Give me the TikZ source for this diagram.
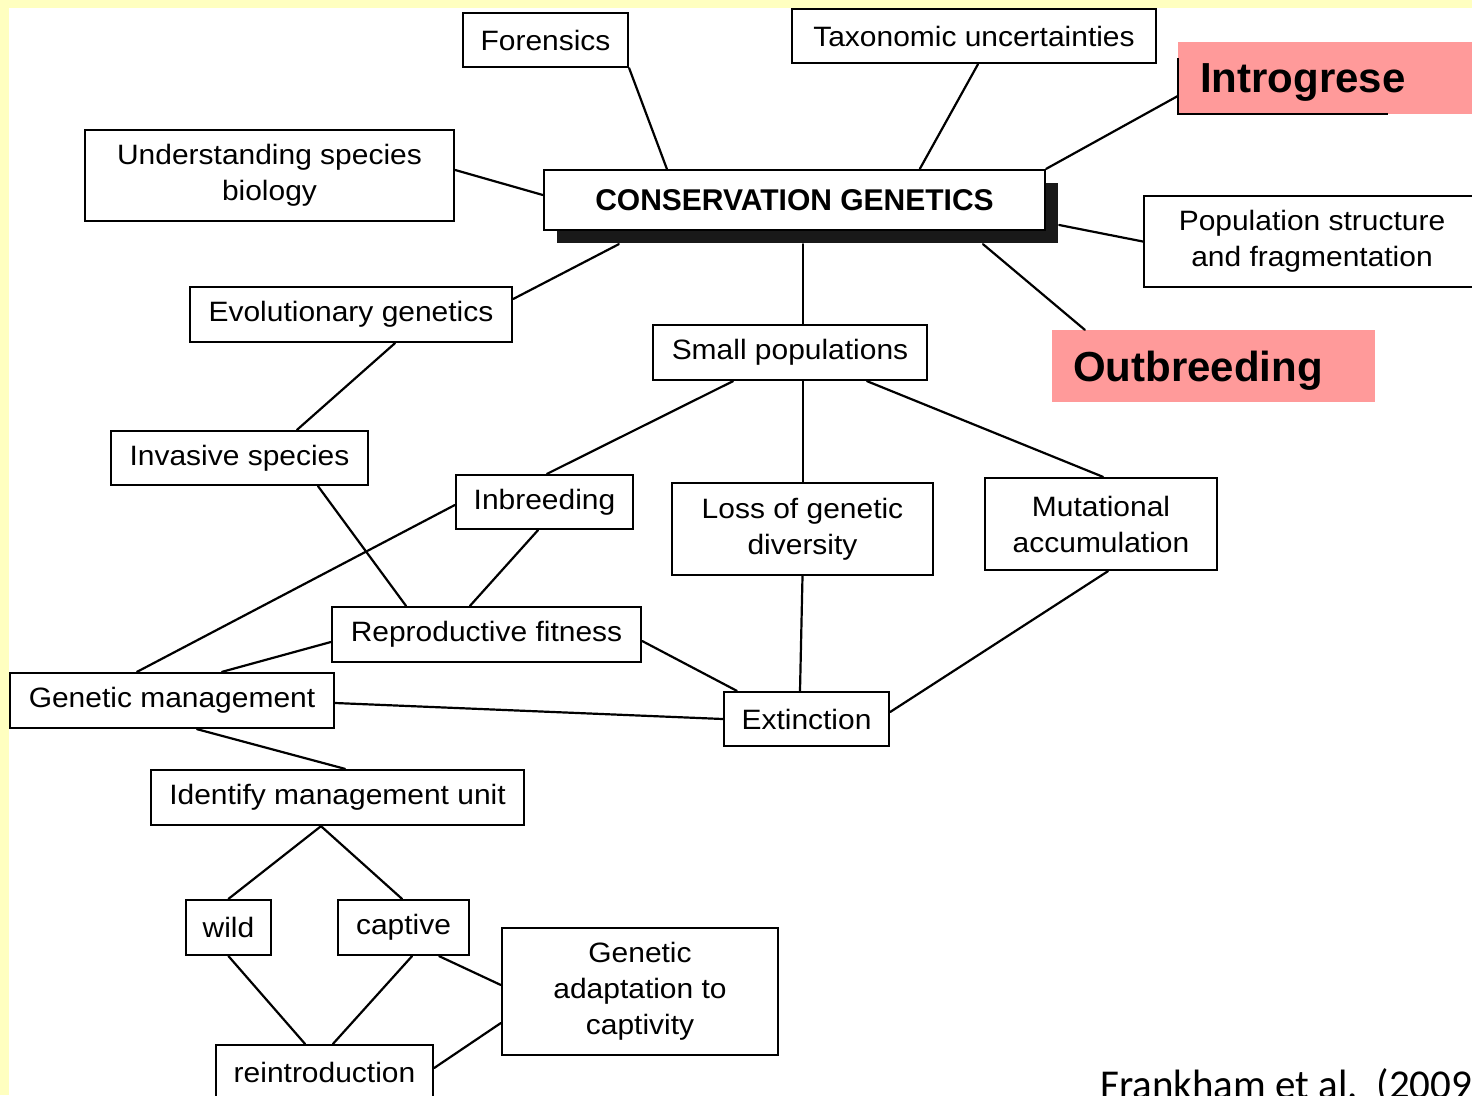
\documentclass[tikz,border=0pt]{standalone}
\usepackage{fontspec}
\setmainfont{Liberation Sans}[FakeStretch=1.07]
\newfontfamily\plainsans{Liberation Sans}
\newfontfamily\calib{Carlito}
\definecolor{slideyellow}{RGB}{255,255,192}
\definecolor{hlpink}{RGB}{255,154,154}
\begin{document}
\begin{tikzpicture}[x=1pt,y=-1pt,
  box/.style={draw=black,line width=2.3pt,fill=white,inner sep=0pt,align=center,
    font=\fontsize{28}{36}\selectfont},
  pinkbox/.style={fill=hlpink,inner ysep=0pt,align=left,text depth=0pt,
    font=\plainsans\bfseries\fontsize{42}{48}\selectfont},
  link/.style={line width=2.2pt,line cap=round}]
\useasboundingbox (0,0) rectangle (1472,1095);
\clip (0,0) rectangle (1472,1095);
\fill[slideyellow] (0,0) rectangle (1472,1095);
\fill[white] (9,8) rectangle (1472,1095);

% shadow of the central box
\fill[black!90] (557,183) rectangle (1058,243);

% nodes
\node[box,minimum width=165pt,minimum height=54pt] (fore) at (545.5,40) {Forensics};
\node[box,minimum width=364pt,minimum height=54pt] (taxo) at (974,36) {Taxonomic uncertainties};
\node[box,minimum width=369pt,minimum height=91pt] (under) at (269.5,175.5) {Understanding species\\biology};
\node[box,minimum width=501pt,minimum height=60pt,font=\plainsans\bfseries\fontsize{30}{34}\selectfont] (cg) at (794.5,200) {CONSERVATION GENETICS};
\node[box,minimum width=336pt,minimum height=91pt] (pop) at (1312,241.5) {Population structure\\and fragmentation};
\node[box,minimum width=322pt,minimum height=55pt] (evo) at (351,314.5) {Evolutionary genetics};
\node[box,minimum width=274pt,minimum height=55pt] (small) at (790,352.5) {Small populations};
\node[box,minimum width=257pt,minimum height=54pt] (inv) at (239.5,458) {Invasive species};
\node[box,minimum width=177pt,minimum height=54pt] (inb) at (544.5,502) {Inbreeding};
\node[box,minimum width=261pt,minimum height=92pt] (loss) at (802.5,529) {Loss of genetic\\diversity};
\node[box,minimum width=232pt,minimum height=92pt] (mut) at (1101,524) {Mutational\\accumulation};
\node[box,minimum width=309pt,minimum height=55pt] (rep) at (486.5,634.5) {Reproductive fitness};
\node[box,minimum width=324pt,minimum height=55pt] (gm) at (172,700.5) {Genetic management};
\node[box,minimum width=165pt,minimum height=54pt] (ext) at (806.5,719) {Extinction};
\node[box,minimum width=373pt,minimum height=55pt] (iden) at (337.5,797.5) {Identify management unit};
\node[box,minimum width=85pt,minimum height=55pt] (wild) at (228.5,927.5) {wild};
\node[box,minimum width=131pt,minimum height=55pt] (capt) at (403.5,927.5) {captive};
\node[box,minimum width=276pt,minimum height=127pt] (gad) at (640,991.5) {Genetic\\adaptation to\\captivity};
\node[box,minimum width=217pt,minimum height=54pt] (rein) at (324.5,1072) {reintroduction};

% highlighted labels
\node[pinkbox,inner xsep=22pt,text width=250pt,minimum height=72pt] (intro) at (1325,78) {Introgrese};
\draw[line width=1.5pt] (1178,58) -- (1178,114) -- (1388,114);
\node[pinkbox,inner xsep=21pt,text width=281pt,minimum height=72pt] (outb) at (1213.5,366) {Outbreeding};

% citation
\node[anchor=base west,inner sep=0pt,font=\calib\fontsize{41}{46}\selectfont] (cite) at (1100,1098) {Frankham et al.\ \ (2009)};

% connectors
\draw[link] (fore.south east) -- ([xshift=124pt]cg.north west);
\draw[link] ([xshift=4pt]taxo.south) -- ([xshift=377pt]cg.north west);
\draw[link] ([yshift=5.5pt]under.east) -- ([yshift=5pt]cg.west);
\draw[link] ([yshift=-18pt]intro.west) -- (cg.north east);
\draw[link] (pop.west) -- ([xshift=13pt,yshift=-25pt]cg.east);
\draw[link] ([xshift=76pt,yshift=-13pt]cg.south west) -- ([yshift=15.5pt]evo.east);
\draw[link] ([xshift=8.5pt,yshift=-13pt]cg.south) -- ([xshift=13pt]small.north);
\draw[link] ([xshift=188.5pt,yshift=-13pt]cg.south) -- ([xshift=33pt]outb.north west);
\draw[link] ([xshift=44pt]evo.south) -- ([xshift=57.5pt]inv.north);
\draw[link] ([xshift=-57pt]small.south) -- ([xshift=2.5pt]inb.north);
\draw[link] ([xshift=13pt]small.south) -- ([xshift=0.5pt]loss.north);
\draw[link] ([xshift=77pt]small.south) -- ([xshift=2pt]mut.north);
\draw[link] ([xshift=78.5pt]inv.south) -- ([xshift=-80.5pt]rep.north);
\draw[link] ([yshift=-3pt]inb.west) -- ([xshift=-35pt]gm.north);
\draw[link] ([xshift=-6.5pt]inb.south) -- ([xshift=-16.5pt]rep.north);
\draw[link] (loss.south) -- ([xshift=-6.5pt]ext.north);
\draw[link] ([xshift=7pt]mut.south) -- ([yshift=7pt]ext.east);
\draw[link] ([yshift=-6.5pt]rep.east) -- ([xshift=14pt]ext.north west);
\draw[link] ([yshift=-7.5pt]rep.west) -- ([xshift=50pt]gm.north);
\draw[link] ([yshift=-2.5pt]gm.east) -- (ext.west);
\draw[link] ([xshift=25pt]gm.south) -- ([xshift=7.5pt]iden.north);
\draw[link] ([xshift=-16.5pt]iden.south) -- (wild.north);
\draw[link] ([xshift=-16.5pt]iden.south) -- ([xshift=-1.5pt]capt.north);
\draw[link] (wild.south) -- ([xshift=-19.5pt]rein.north);
\draw[link] ([xshift=8.5pt]capt.south) -- ([xshift=8.5pt]rein.north);
\draw[link] ([xshift=-31pt]capt.south east) -- ([yshift=6.5pt]gad.west);
\draw[link] ([yshift=4pt]rein.east) -- ([yshift=-31.5pt]gad.west);
\end{tikzpicture}
\end{document}
